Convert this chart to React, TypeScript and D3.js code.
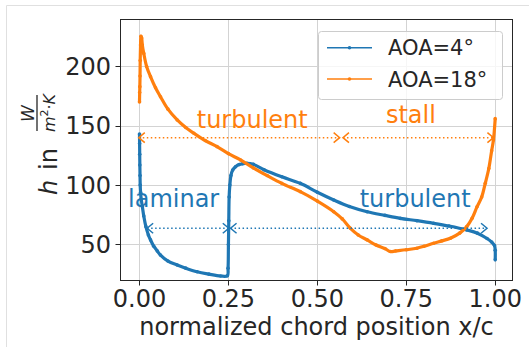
import React from "react";
import * as d3 from "d3";

// AOA = 4 deg
const blueX = [0, 0.0003, 0.0006, 0.001, 0.0015, 0.002, 0.003, 0.005, 0.008, 0.012, 0.018, 0.025, 0.031, 0.04, 0.05, 0.059, 0.08, 0.106, 0.13, 0.162, 0.195, 0.228, 0.247, 0.249, 0.25, 0.251, 0.252, 0.254, 0.257, 0.262, 0.27, 0.28, 0.29, 0.302, 0.32, 0.35, 0.4, 0.452, 0.5, 0.546, 0.59, 0.64, 0.69, 0.733, 0.78, 0.827, 0.87, 0.92, 0.95, 0.977, 0.99, 0.998, 1.0, 1.0];
const blueY = [143, 135, 126, 117, 108, 100, 94, 88, 82, 74, 65, 58, 53.8, 48.5, 44.5, 41, 36, 32.7, 30, 27, 25, 23.4, 23.6, 30, 50, 70, 90, 100, 108, 112.7, 115.5, 117.3, 118, 118.4, 117.5, 113, 107, 101.5, 94, 87.5, 82, 77.6, 74.5, 72, 70, 67.8, 65.5, 62.2, 59.5, 55, 52, 49, 45, 37];

// AOA = 18 deg
const orangeX = [0, 0.0005, 0.001, 0.0015, 0.002, 0.003, 0.004, 0.006, 0.008, 0.012, 0.02, 0.031, 0.045, 0.059, 0.08, 0.106, 0.13, 0.153, 0.185, 0.218, 0.25, 0.284, 0.32, 0.359, 0.4, 0.452, 0.5, 0.546, 0.57, 0.593, 0.615, 0.64, 0.665, 0.69, 0.705, 0.72, 0.75, 0.78, 0.8, 0.827, 0.85, 0.874, 0.9, 0.92, 0.935, 0.949, 0.962, 0.972, 0.982, 0.99, 0.995, 1.0];
const orangeY = [170, 178, 183, 192, 205, 218, 225.5, 224, 218, 211, 200, 191.4, 182, 174.5, 164, 154.9, 148.5, 143.7, 137.5, 132.4, 126.5, 121.2, 114.5, 108, 101.5, 94.5, 86.5, 77.6, 71.5, 63.6, 58, 53.8, 49.5, 46.5, 44, 44.5, 45.5, 46.8, 48.5, 51, 53, 55.2, 59.5, 65, 72, 81.8, 90, 101.5, 114, 129, 138, 156];

const seriesNames = ["AOA=4°", "AOA=18°"];
const colors = ["#1f77b4", "#ff7f0e"];

const xTicks = [0, 0.25, 0.5, 0.75, 1.0];
const yTicks = [50, 100, 150, 200];

// annotation labels: text, x, y (data), series index
const noteText = ["turbulent", "stall", "laminar", "turbulent"];
const noteX = [0.317, 0.763, 0.096, 0.775];
const noteY = [148, 152, 81.6, 81.6];
const noteColor = [1, 1, 0, 0];

// double arrows: x start, x end, y (data)
const arrowX0 = [-0.002, 0.572, 0.0215, 0.256];
const arrowX1 = [0.5627, 0.995, 0.251, 0.977];
const arrowY = [140, 140, 63.6, 63.6];
const arrowColor = [1, 1, 0, 0];

const W = 529;
const H = 347;

const App = () => {
  const x = d3.scaleLinear().domain([-0.052, 1.05]).range([121, 513]);
  const y = d3.scaleLinear().domain([19.6, 240]).range([280.5, 19]);
  const font = "DejaVu Sans, sans-serif";

  const line = d3
    .line<[number, number]>()
    .x((d) => x(d[0]))
    .y((d) => y(d[1]))
    .curve(d3.curveCatmullRom.alpha(0.5));

  const series = [
    blueX.map((v, i) => [v, blueY[i]] as [number, number]),
    orangeX.map((v, i) => [v, orangeY[i]] as [number, number]),
  ];

  const left = 120.5, right = 512.5, top = 19.5, bottom = 280.5;

  const head = (tx: number, ty: number, dir: number, c: string, k: string) => (
    <path
      key={k}
      d={`M${tx + dir * 6},${ty - 5} L${tx},${ty} L${tx + dir * 6},${ty + 5}`}
      fill="none"
      stroke={c}
      strokeWidth={1.5}
    />
  );

  return (
    <svg width={W} height={H} style={{ position: "absolute", left: 0, top: 0, background: "#fff" }} fontFamily={font}>
      {/* notebook frame */}
      <line x1={6.5} y1={5.5} x2={W} y2={5.5} stroke="#e0e0e0" />
      <line x1={6.5} y1={5.5} x2={6.5} y2={H} stroke="#e0e0e0" />

      {/* grid */}
      {xTicks.map((t) => (
        <line key={"gx" + t} x1={Math.round(x(t)) + 0.5} x2={Math.round(x(t)) + 0.5} y1={top} y2={bottom} stroke="#d3d3d3" strokeWidth={1} />
      ))}
      {yTicks.map((t) => (
        <line key={"gy" + t} x1={left} x2={right} y1={Math.round(y(t)) + 0.5} y2={Math.round(y(t)) + 0.5} stroke="#d3d3d3" strokeWidth={1} />
      ))}

      {/* curves */}
      {series.map((s, i) => (
        <g key={"s" + i}>
          <path d={line(s) || ""} fill="none" stroke={colors[i]} strokeWidth={3.2} strokeLinejoin="round" />
          {s.map((p, j) => (
            <circle key={j} cx={x(p[0])} cy={y(p[1])} r={1.8} fill={colors[i]} />
          ))}
        </g>
      ))}

      {/* arrows */}
      {arrowX0.map((a, i) => {
        const c = colors[arrowColor[i]];
        const yy = y(arrowY[i]);
        const x0 = x(a), x1 = x(arrowX1[i]);
        return (
          <g key={"a" + i}>
            <line x1={x0} x2={x1} y1={yy} y2={yy} stroke={c} strokeWidth={1.5} strokeDasharray="1.5,2.5" />
            {head(x0, yy, 1, c, "h0")}
            {head(x1, yy, -1, c, "h1")}
          </g>
        );
      })}

      {/* notes */}
      {noteText.map((t, i) => (
        <text key={"n" + i} x={x(noteX[i])} y={y(noteY[i])} textAnchor="middle" fontSize={24} fill={colors[noteColor[i]]}>
          {t}
        </text>
      ))}

      {/* spines */}
      <rect x={left} y={top} width={right - left} height={bottom - top} fill="none" stroke="#262626" strokeWidth={1} />

      {/* ticks */}
      {xTicks.map((t) => (
        <g key={"tx" + t}>
          <line x1={Math.round(x(t)) + 0.5} x2={Math.round(x(t)) + 0.5} y1={bottom} y2={bottom + 5} stroke="#262626" />
          <text x={x(t)} y={307} textAnchor="middle" fontSize={24} fill="#262626">
            {t.toFixed(2)}
          </text>
        </g>
      ))}
      {yTicks.map((t) => (
        <g key={"ty" + t}>
          <line x1={left - 5} x2={left} y1={Math.round(y(t)) + 0.5} y2={Math.round(y(t)) + 0.5} stroke="#262626" />
          <text x={111} y={y(t) + 8.5} textAnchor="end" fontSize={24} fill="#262626">
            {t}
          </text>
        </g>
      ))}

      {/* axis labels */}
      <text x={(left + right) / 2} y={335} textAnchor="middle" fontSize={24} fill="#262626">
        normalized chord position x/c
      </text>
      <g transform="translate(57,195) rotate(-90)" fill="#262626">
        <text x={0} y={0} fontSize={24} fontStyle="italic">h</text>
        <text x={25} y={0} fontSize={24}>in</text>
        <line x1={64} x2={100} y1={-20} y2={-20} stroke="#262626" strokeWidth={1.3} />
        <text x={81.5} y={-23.5} fontSize={17} fontStyle="italic" textAnchor="middle">W</text>
        <text x={82} y={-2} fontSize={16} fontStyle="italic" textAnchor="middle">
          m<tspan fontSize={11} fontStyle="normal" dy={-7}>2</tspan>
          <tspan dy={7} fontStyle="normal">·</tspan>K
        </text>
      </g>

      {/* legend */}
      <rect x={318.5} y={31.5} width={184} height={68} rx={3} fill="#fff" fillOpacity={0.8} stroke="#cccccc" />
      {seriesNames.map((n, i) => {
        const ly = 47.7 + i * 31.3;
        return (
          <g key={"l" + i}>
            <line x1={327} x2={372} y1={ly} y2={ly} stroke={colors[i]} strokeWidth={1.5} />
            <circle cx={349.5} cy={ly} r={1.8} fill={colors[i]} />
            <text x={388} y={ly + 7.5} fontSize={21} fill="#262626">
              {n}
            </text>
          </g>
        );
      })}
    </svg>
  );
};

export default App;
